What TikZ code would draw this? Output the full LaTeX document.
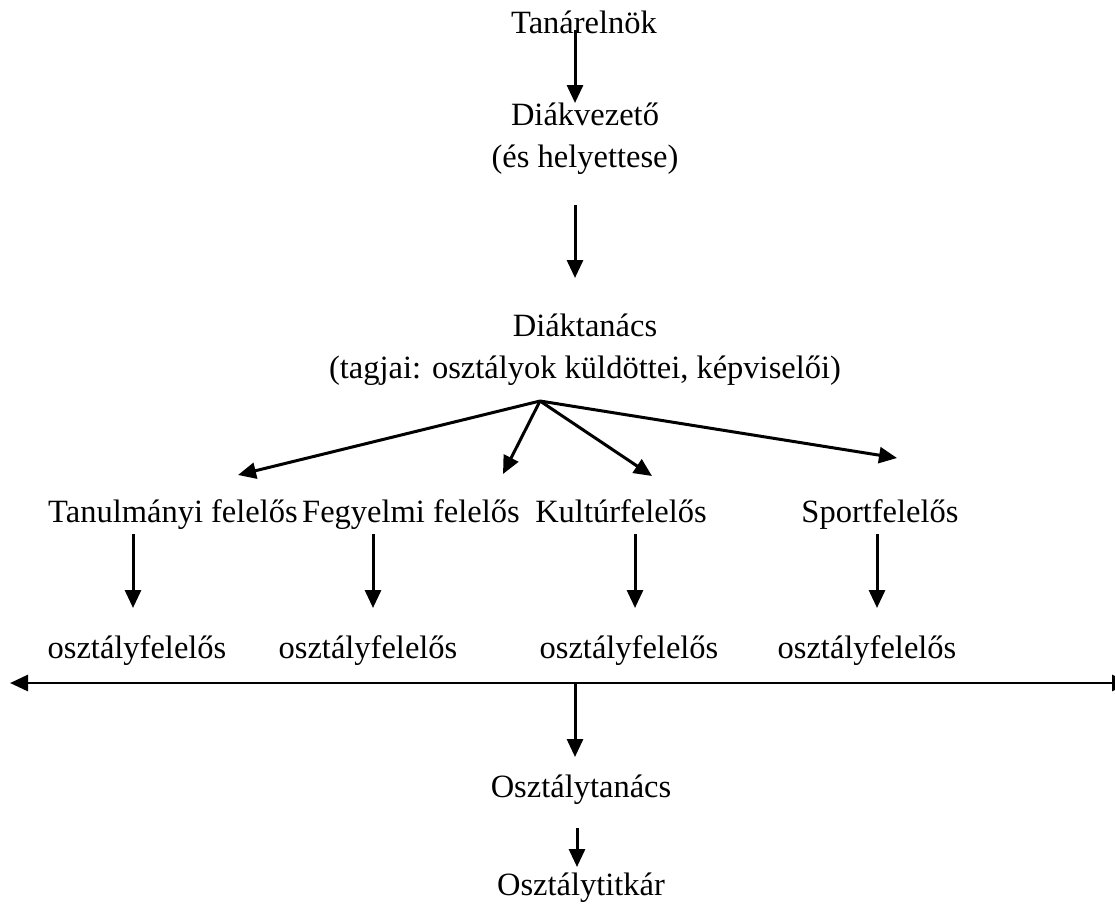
\documentclass[tikz,border=0pt]{standalone}
\usepackage{fontspec}
\setmainfont{Liberation Serif}
\usetikzlibrary{arrows.meta}

\tikzset{
	lbl/.style={font=\fontsize{32.5}{42}\selectfont, inner sep=0pt, align=center},
	one/.style={lbl, text height=0.75em, text depth=0.25em},
	arr/.style={-{Triangle[length=18pt,width=16pt]}, line width=3pt},
	twoarr/.style={{Triangle[length=18pt,width=16pt]}-{Triangle[length=18pt,width=16pt]}, line width=2.8pt}
}

\begin{document}
\begin{tikzpicture}[x=1pt,y=-1pt]
	\useasboundingbox[fill=white] (0,0) rectangle (1115,906);

	\node[one] (elnok) at (584,31) {Tanárelnök};
	\node[lbl] (vezeto) at (585,139) {Diákvezető\\(és helyettese)};
	\node[lbl] (tanacs) at (585,350) {Diáktanács\\(tagjai: osztályok küldöttei, képviselői)};

	\node[one] (tan) at (173,520) {Tanulmányi felelős};
	\node[one] (fegy) at (411,520) {Fegyelmi felelős};
	\node[one] (kult) at (621,520) {Kultúrfelelős};
	\node[one] (sport) at (880,520) {Sportfelelős};

	\node[one] (of1) at (137,656) {osztályfelelős};
	\node[one] (of2) at (368,656) {osztályfelelős};
	\node[one] (of3) at (629,656) {osztályfelelős};
	\node[one] (of4) at (867,656) {osztályfelelős};

	\node[one] (otan) at (581,795) {Osztálytanács};
	\node[one] (otit) at (581,893) {Osztálytitkár};

	\coordinate (e1) at (575,30);
	\coordinate (e2) at (575,103);
	\coordinate (v1) at (575,205);
	\coordinate (v2) at (575,278);
	\coordinate (fan) at (540,401);
	\coordinate (hl) at (10,683);
	\coordinate (hr) at (1130,683);
	\coordinate (hm) at (575,683);
	\coordinate (hd) at (575,757);
	\coordinate (t1) at (577,828);
	\coordinate (t2) at (577,867);

	\draw[arr] (e1) -- (e2);
	\draw[arr] (v1) -- (v2);

	\draw[arr] (fan) -- (238,475);
	\draw[arr] (fan) -- (503,474);
	\draw[arr] (fan) -- (652,476);
	\draw[arr] (fan) -- (897,458);

	\foreach \x in {133,373,635,877}
		\draw[arr] (\x,534) -- (\x,608);

	\draw[twoarr] (hl) -- (hr);
	\draw[arr] (hm) -- (hd);
	\draw[arr] (t1) -- (t2);
\end{tikzpicture}
\end{document}
